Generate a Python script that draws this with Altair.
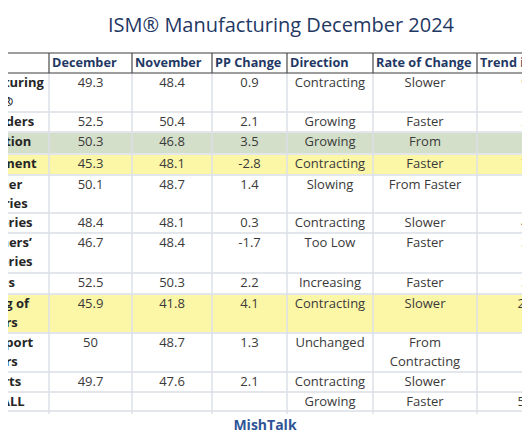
import altair as alt
import pandas as pd

# ---------------- data ----------------
title = "ISM® Manufacturing December 2024"
source = "MishTalk"
headers = ["December", "November", "PP Change", "Direction", "Rate of Change", "Trend in Months"]
label_line1 = ["Manufacturing", "New Orders", "Production", "Employment", "Supplier", "Inventories",
               "Customers’", "Prices", "Backlog of", "New Export", "Imports", "OVERALL"]
label_line2 = ["PMI®", "", "", "", "Deliveries", "", "Inventories", "", "Orders", "Orders", "", ""]
december = [49.3, 52.5, 50.3, 45.3, 50.1, 48.4, 46.7, 52.5, 45.9, 50, 49.7, None]
november = [48.4, 50.4, 46.8, 48.1, 48.7, 48.1, 48.4, 50.3, 41.8, 48.7, 47.6, None]
pp_change = [0.9, 2.1, 3.5, -2.8, 1.4, 0.3, -1.7, 2.2, 4.1, 1.3, 2.1, None]
direction = ["Contracting", "Growing", "Growing", "Contracting", "Slowing", "Contracting",
             "Too Low", "Increasing", "Contracting", "Unchanged", "Contracting", "Growing"]
rate_line1 = ["Slower", "Faster", "From", "Faster", "From Faster", "Slower", "Faster", "Faster",
              "Slower", "From", "Slower", "Faster"]
rate_line2 = ["", "", "", "", "", "", "", "", "", "Contracting", "", ""]
trend = ["9", "2", "1", "7", "1", "4", "3", "3", "27", "1", "1", "56"]
highlight = ["", "", "green", "yellow", "", "", "", "", "yellow", "", "", ""]

# ---------------- layout / style ----------------
W, H = 514, 425
X0, Y0 = 8, 8
col_edges = [-40, 49, 132, 212, 287, 373, 477, 573]
row_edges = [73, 112, 132, 154, 175, 213, 233, 273, 294, 333, 372, 392, 411]
head_top, head_bot = 53, 73
LINE1, LINE_GAP = 9.5, 19.3
LABEL_CENTER = -4.5
fills = {"green": "#d4dfc9", "yellow": "#fcf6a7"}
NAVY = "#1f3864"
TXT = "#3a3a3a"
FONT = "Open Sans"

xs = alt.Scale(domain=[X0, X0 + W], nice=False, zero=False)
ys = alt.Scale(domain=[Y0, Y0 + H], nice=False, zero=False, reverse=True)


def X(f):
    return alt.X(f, type="quantitative", scale=xs, axis=None)


def X2(f):
    return alt.X2(f)


def Y(f):
    return alt.Y(f, type="quantitative", scale=ys, axis=None)


def fmt(v):
    return "" if v is None else f"{v:g}"


n = len(label_line1)
left, right = 0, 540

# row backgrounds
bg = pd.DataFrame([
    {"x": left, "x2": right, "y": row_edges[i], "y2": row_edges[i + 1], "fill": fills[h]}
    for i, h in enumerate(highlight) if h
])
bg_layer = alt.Chart(bg).mark_rect().encode(
    x=X("x"), x2=X2("x2"), y=Y("y"), y2=alt.Y2("y2"), fill=alt.Fill("fill:N", scale=None))

# light body grid
hlines = pd.DataFrame({"x": left, "x2": right, "y": row_edges[1:]})
h_layer = alt.Chart(hlines).mark_rule(color="#e3e6ea", strokeWidth=2).encode(
    x=X("x"), x2=X2("x2"), y=Y("y"))
vlines = pd.DataFrame({"x": col_edges[1:-1], "y": head_bot, "y2": row_edges[-1] + 3})
v_layer = alt.Chart(vlines).mark_rule(color="#dce1e7", strokeWidth=1.5).encode(
    x=X("x"), y=Y("y"), y2=alt.Y2("y2"))

# dark header grid
hd = pd.DataFrame({"x": left, "x2": right, "y": [head_top, head_bot]})
hd_layer = alt.Chart(hd).mark_rule(color="#3c3c3c", strokeWidth=1.2).encode(
    x=X("x"), x2=X2("x2"), y=Y("y"))
vd = pd.DataFrame({"x": col_edges[1:-1], "y": head_top, "y2": head_bot})
vd_layer = alt.Chart(vd).mark_rule(color="#4a4a4a", strokeWidth=1.2).encode(
    x=X("x"), y=Y("y"), y2=alt.Y2("y2"))

# header texts
hdr = pd.DataFrame({"x": [c + 3 for c in col_edges[1:-1]], "y": (head_top + head_bot) / 2,
                    "t": headers})
hdr_layer = alt.Chart(hdr).mark_text(align="left", baseline="middle", font=FONT, fontSize=12.7,
                                     fontWeight="bold", color=NAVY, clip=True).encode(
    x=X("x"), y=Y("y"), text="t:N")

# row labels
lab_rows = []
for i in range(n):
    for k, t in enumerate([label_line1[i], label_line2[i]]):
        if t:
            lab_rows.append({"x": LABEL_CENTER, "y": row_edges[i] + LINE1 + k * LINE_GAP, "t": t})
lab_layer = alt.Chart(pd.DataFrame(lab_rows)).mark_text(
    align="center", baseline="middle", font=FONT, fontSize=13, fontWeight="bold",
    color="#262626", clip=True).encode(x=X("x"), y=Y("y"), text="t:N")

# body cells
centers = [(col_edges[j] + col_edges[j + 1]) / 2 for j in range(1, len(col_edges) - 1)]
cells = []
for i in range(n):
    y1 = row_edges[i] + LINE1
    vals = [fmt(december[i]), fmt(november[i]), fmt(pp_change[i]), direction[i], rate_line1[i], trend[i]]
    for j, t in enumerate(vals):
        if t:
            cells.append({"x": centers[j], "y": y1, "t": t})
    if rate_line2[i]:
        cells.append({"x": centers[4], "y": y1 + LINE_GAP, "t": rate_line2[i]})
cell_layer = alt.Chart(pd.DataFrame(cells)).mark_text(
    align="center", baseline="middle", font=FONT, fontSize=13, color=TXT, clip=True).encode(
    x=X("x"), y=Y("y"), text="t:N")

# title and source
ttl = pd.DataFrame({"x": [281], "y": [26], "t": [title]})
ttl_layer = alt.Chart(ttl).mark_text(align="center", baseline="middle", font=FONT, fontSize=20,
                                     color=NAVY).encode(x=X("x"), y=Y("y"), text="t:N")
src = pd.DataFrame({"x": [265], "y": [426], "t": [source]})
src_layer = alt.Chart(src).mark_text(align="center", baseline="middle", font=FONT, fontSize=14,
                                     fontWeight="bold", color="#2f5597").encode(
    x=X("x"), y=Y("y"), text="t:N")

chart = alt.layer(
    bg_layer, h_layer, v_layer, hd_layer, vd_layer, hdr_layer, lab_layer, cell_layer,
    ttl_layer, src_layer
).properties(
    width=W, height=H, padding=0, autosize=alt.AutoSizeParams(type="none"),
    background="white"
).configure_view(stroke=None)

chart.save("out.html", embed_options={"renderer": "svg", "actions": False})
